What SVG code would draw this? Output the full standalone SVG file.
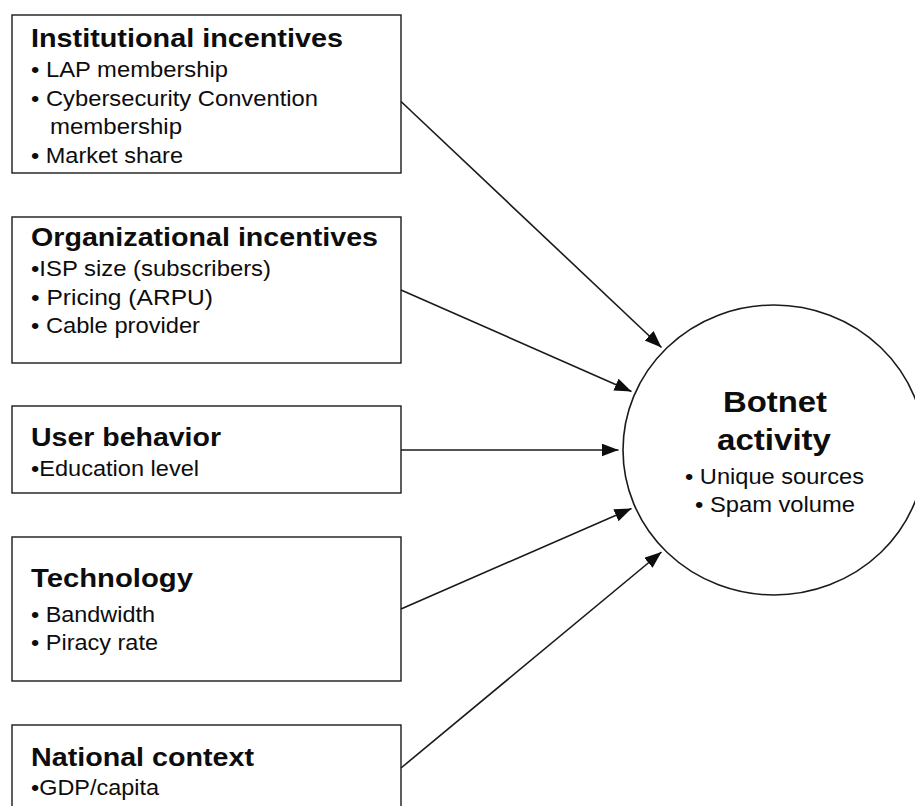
<svg xmlns="http://www.w3.org/2000/svg" width="915" height="806" viewBox="0 0 915 806">
  <style>
    .box { fill: #ffffff; stroke: #1a1a1a; stroke-width: 1.4; }
    .hub { fill: #ffffff; stroke: #1a1a1a; stroke-width: 1.6; }
    .title { font-family: "Liberation Sans", Arial, sans-serif; font-weight: bold; font-size: 25px; fill: #0d0d0d; }
    .item { font-family: "Liberation Sans", Arial, sans-serif; font-size: 22px; fill: #0d0d0d; }
    .hubtitle { font-family: "Liberation Sans", Arial, sans-serif; font-weight: bold; font-size: 30px; fill: #0d0d0d; text-anchor: middle; }
    .hubitem { font-family: "Liberation Sans", Arial, sans-serif; font-size: 22px; fill: #0d0d0d; text-anchor: middle; }
    .edge { stroke: #1a1a1a; stroke-width: 1.6; fill: none; marker-end: url(#arrow); }
  </style>
  <defs>
    <marker id="arrow" markerUnits="userSpaceOnUse" markerWidth="18" markerHeight="14" refX="17" refY="6.5" orient="auto">
      <path d="M0,0 L17,6.5 L0,13 z" fill="#0d0d0d"/>
    </marker>
  </defs>

  <rect width="915" height="806" fill="#ffffff"/>

  <!-- outcome node -->
  <g id="botnet-activity">
    <ellipse class="hub" cx="774" cy="450" rx="151" ry="145"/>
    <text class="hubtitle" x="775" y="412" textLength="104" lengthAdjust="spacingAndGlyphs">Botnet</text>
    <text class="hubtitle" x="774" y="450" textLength="114" lengthAdjust="spacingAndGlyphs">activity</text>
    <text class="hubitem" x="774.5" y="484" textLength="179" lengthAdjust="spacingAndGlyphs">• Unique sources</text>
    <text class="hubitem" x="775" y="512" textLength="160" lengthAdjust="spacingAndGlyphs">• Spam volume</text>
  </g>

  <!-- driver nodes -->
  <g id="institutional-incentives">
    <rect class="box" x="12" y="15" width="389" height="158"/>
    <text class="title" x="31" y="47" textLength="312" lengthAdjust="spacingAndGlyphs">Institutional incentives</text>
    <text class="item" x="31" y="77" textLength="197" lengthAdjust="spacingAndGlyphs">• LAP membership</text>
    <text class="item" x="31" y="106" textLength="287" lengthAdjust="spacingAndGlyphs">• Cybersecurity Convention</text>
    <text class="item" x="50" y="134" textLength="132" lengthAdjust="spacingAndGlyphs">membership</text>
    <text class="item" x="31" y="163" textLength="152" lengthAdjust="spacingAndGlyphs">• Market share</text>
  </g>

  <g id="organizational-incentives">
    <rect class="box" x="12" y="217" width="389" height="146"/>
    <text class="title" x="31" y="246" textLength="347" lengthAdjust="spacingAndGlyphs">Organizational incentives</text>
    <text class="item" x="31" y="276" textLength="240" lengthAdjust="spacingAndGlyphs">•ISP size (subscribers)</text>
    <text class="item" x="31" y="305" textLength="182" lengthAdjust="spacingAndGlyphs">• Pricing (ARPU)</text>
    <text class="item" x="31" y="333" textLength="169" lengthAdjust="spacingAndGlyphs">• Cable provider</text>
  </g>

  <g id="user-behavior">
    <rect class="box" x="12" y="406" width="389" height="87"/>
    <text class="title" x="31" y="446" textLength="190" lengthAdjust="spacingAndGlyphs">User behavior</text>
    <text class="item" x="31" y="476" textLength="168" lengthAdjust="spacingAndGlyphs">•Education level</text>
  </g>

  <g id="technology">
    <rect class="box" x="12" y="537" width="389" height="144"/>
    <text class="title" x="31" y="587" textLength="162" lengthAdjust="spacingAndGlyphs">Technology</text>
    <text class="item" x="31" y="622" textLength="124" lengthAdjust="spacingAndGlyphs">• Bandwidth</text>
    <text class="item" x="31" y="650" textLength="127" lengthAdjust="spacingAndGlyphs">• Piracy rate</text>
  </g>

  <g id="national-context">
    <rect class="box" x="12" y="725" width="389" height="110"/>
    <text class="title" x="31" y="766" textLength="223" lengthAdjust="spacingAndGlyphs">National context</text>
    <text class="item" x="31" y="795" textLength="128" lengthAdjust="spacingAndGlyphs">•GDP/capita</text>
  </g>

  <!-- connectors -->
  <g id="connectors">
    <line class="edge" x1="401" y1="101.5" x2="661.5" y2="347.5"/>
    <line class="edge" x1="401" y1="290" x2="631.5" y2="391.5"/>
    <line class="edge" x1="401" y1="450" x2="618.5" y2="450"/>
    <line class="edge" x1="401" y1="609" x2="631.5" y2="508.5"/>
    <line class="edge" x1="401" y1="768" x2="661.5" y2="552"/>
  </g>
</svg>
